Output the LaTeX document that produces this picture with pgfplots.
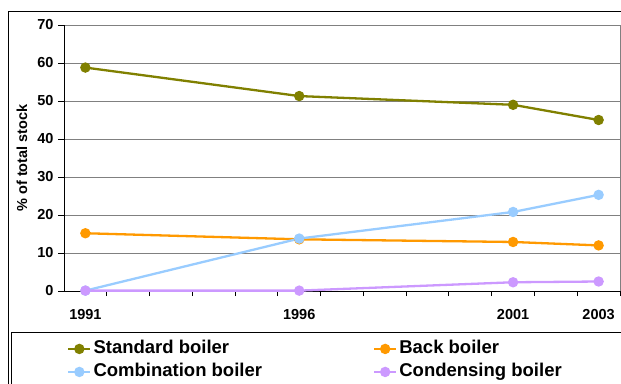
\documentclass[border=0pt]{standalone}
\usepackage{fontspec}
\setmainfont{Liberation Sans}
\usepackage{pgfplots}
\pgfplotsset{compat=1.18}

\definecolor{stdcol}{HTML}{808000}
\definecolor{backcol}{HTML}{FF9900}
\definecolor{combicol}{HTML}{99CCFF}
\definecolor{condcol}{HTML}{CC99FF}
\definecolor{gridcol}{HTML}{808080}

\begin{document}
\begin{tikzpicture}
\useasboundingbox (0pt,0pt) rectangle (621pt,383pt);
% chart frame and legend box (both run past the page edge)
\draw[line width=1pt] (8.3pt,-20pt) -- (8.3pt,371pt) -- (650pt,371pt);
\draw[line width=1pt] (11.7pt,-20pt) -- (11.7pt,50.3pt) -- (650pt,50.3pt);

\begin{axis}[
  at={(64pt,92pt)}, anchor=south west,
  scale only axis, width=556pt, height=266pt,
  xmin=1990.5, xmax=2003.5, ymin=0, ymax=70,
  clip=false,
  axis lines*=left,
  axis line style={-, black, line width=1pt},
  ymajorgrids, grid style={gridcol, line width=1pt},
  ytick={0,10,...,70},
  xtick={1991,1996,2001,2003},
  xticklabels={1991,1996,2001,2003},
  minor xtick={1991.5,1992.5,...,2003.5},
  tick align=outside,
  major tick length=6pt, minor tick length=5pt,
  major x tick style={draw=none},
  minor x tick style={black, line width=1pt},
  major y tick style={black, line width=1pt},
  /pgf/number format/assume math mode=true,
  ticklabel style={font=\bfseries\fontsize{14.5}{16}\selectfont},
  xticklabel style={yshift=-9pt},
  yticklabel style={xshift=-1pt},
  ylabel={\% of total stock},
  ylabel style={at={(axis description cs:-0.0755,0.5)}, anchor=center,
                font=\bfseries\fontsize{14.5}{16}\selectfont},
  every axis plot/.append style={line width=2.3pt},
  legend columns=2,
  legend image code/.code={\draw[mark repeat=2,mark phase=2,#1]
      plot coordinates {(0pt,0pt) (11pt,0pt) (22pt,0pt)};},
  legend style={at={(rel axis cs:0,0)}, anchor=north west,
      xshift=0pt, yshift=-45pt, draw=none, fill=none,
      font=\bfseries\fontsize{18.5}{20}\selectfont,
      cells={anchor=west},
      nodes={inner sep=2pt, text height=13.5pt, text depth=4pt},
      row sep=1.5pt,
      /tikz/column 2/.style={column sep=109pt}},
]
\draw[gridcol, line width=1pt] (rel axis cs:1,0) -- (rel axis cs:1,1);

\addplot[stdcol, mark=*, mark size=4pt, mark options={solid, fill=stdcol}]
  coordinates {(1991,58.8) (1996,51.3) (2001,49.0) (2003,45.0)};
\addlegendentry{Standard boiler}
\addplot[backcol, mark=*, mark size=4pt, mark options={solid, fill=backcol}]
  coordinates {(1991,15.2) (1996,13.6) (2001,12.9) (2003,12.0)};
\addlegendentry{Back boiler}
\addplot[combicol, mark=*, mark size=4pt, mark options={solid, fill=combicol}]
  coordinates {(1991,0.1) (1996,13.8) (2001,20.8) (2003,25.3)};
\addlegendentry{Combination boiler}
\addplot[condcol, mark=*, mark size=4pt, mark options={solid, fill=condcol}]
  coordinates {(1991,0.1) (1996,0.1) (2001,2.3) (2003,2.5)};
\addlegendentry{Condensing boiler}
\end{axis}
\end{tikzpicture}
\end{document}
